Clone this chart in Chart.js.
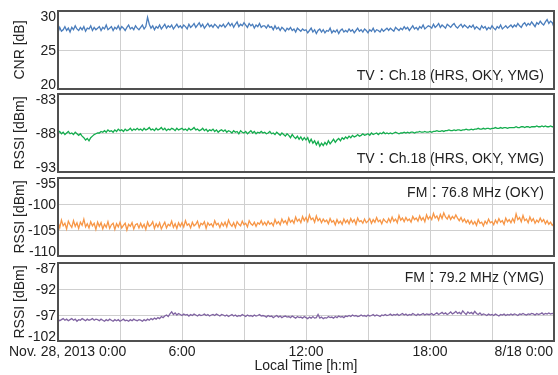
<!DOCTYPE html>
<html>
<head>
<meta charset="utf-8">
<script src="https://cdn.jsdelivr.net/npm/chart.js@4.4.0/dist/chart.umd.min.js"></script>
<style>
  html, body { margin: 0; padding: 0; background: #fff; }
  #wrap { position: relative; width: 558px; height: 375px; }
  #wrap canvas { position: absolute; left: 0; top: 0; }
</style>
</head>
<body>
<div id="wrap">
  <canvas id="cnr" width="558" height="375"></canvas>
  <canvas id="tv-rssi" width="558" height="375"></canvas>
  <canvas id="fm768" width="558" height="375"></canvas>
  <canvas id="fm792" width="558" height="375"></canvas>
</div>
<script>
// one sample every 5 minutes, 0:00 .. 24:00 (one row = 2 hours)
const SAMPLE_MINUTES = 5;

const cnrValues = [
  27.2, 27.9, 27.4, 27.6, 28.0, 27.5, 27.8, 27.3, 27.9, 27.6, 28.1, 27.7, 27.5, 27.9, 27.6, 28.0, 27.4, 27.8, 27.7, 28.1, 27.5, 27.9, 27.6, 27.8,
  28.0, 27.5, 27.9, 27.7, 28.2, 27.6, 27.8, 28.0, 27.5, 27.9, 27.7, 28.1, 27.6, 28.0, 27.8, 27.5, 27.9, 28.2, 27.7, 27.9, 27.6, 28.1, 27.8, 27.6,
  27.9, 28.2, 27.7, 28.0, 29.2, 28.3, 27.8, 28.1, 27.6, 28.0, 27.8, 28.2, 27.7, 28.0, 28.3, 27.8, 28.1, 27.9, 28.2, 27.7, 28.0, 28.3, 27.9, 28.1,
  27.8, 28.2, 28.0, 27.7, 28.3, 27.9, 28.1, 28.4, 27.9, 28.2, 28.5, 28.0, 28.3, 27.8, 28.1, 28.4, 28.0, 28.2, 27.9, 28.3, 28.1, 27.8, 28.2, 28.0,
  28.3, 27.9, 28.2, 28.5, 28.1, 28.4, 27.9, 28.3, 28.6, 28.0, 28.3, 28.1, 28.5, 28.2, 27.9, 28.4, 28.1, 28.3, 27.8, 28.2, 28.0, 28.4, 27.9, 28.1,
  28.1, 27.8, 28.2, 27.9, 28.0, 27.6, 28.1, 27.7, 27.9, 27.5, 27.9, 27.7, 27.4, 27.8, 27.6, 27.9, 27.5, 27.7, 27.3, 27.8, 27.6, 27.4, 27.7, 27.5,
  27.6, 27.2, 27.5, 27.8, 27.3, 27.6, 27.1, 27.5, 27.7, 27.3, 27.6, 27.2, 27.5, 27.4, 27.8, 27.2, 27.5, 27.3, 27.6, 27.1, 27.5, 27.7, 27.3, 27.5,
  27.3, 27.7, 27.4, 27.6, 27.2, 27.5, 27.8, 27.4, 27.6, 27.3, 27.7, 27.5, 27.2, 27.6, 27.4, 27.8, 27.3, 27.6, 27.5, 27.3, 27.7, 27.4, 27.6, 27.8,
  27.5, 27.8, 27.6, 27.4, 27.9, 27.7, 27.5, 27.8, 27.6, 28.0, 27.7, 27.9, 27.5, 27.8, 28.1, 27.7, 27.9, 27.6, 28.0, 27.8, 28.2, 27.7, 27.9, 28.1,
  28.0, 27.8, 28.3, 27.9, 28.1, 28.4, 27.9, 28.2, 28.0, 27.8, 28.3, 28.1, 27.9, 28.2, 28.4, 28.0, 27.8, 28.1, 28.3, 27.9, 28.2, 28.0, 27.8, 28.1,
  27.9, 28.2, 27.7, 28.0, 27.8, 27.6, 28.1, 27.8, 28.0, 27.6, 27.9, 27.7, 28.1, 27.8, 27.6, 28.0, 27.8, 28.2, 27.7, 27.9, 28.1, 27.8, 28.0, 28.2,
  27.9, 28.2, 28.0, 28.4, 28.1, 27.9, 28.3, 28.5, 28.1, 28.4, 28.2, 28.6, 28.3, 28.0, 28.5, 28.3, 28.7, 28.4, 28.2, 28.6, 28.9, 28.4, 28.7, 28.5,
  27.9
];

const tvRssiValues = [
  -88.0, -87.8, -88.1, -87.9, -88.2, -88.0, -87.8, -88.1, -88.0, -88.2, -87.9, -88.1, -88.3, -88.1, -88.4, -88.6, -88.9, -88.7, -89.0, -88.6, -88.4, -88.2, -88.1, -88.0,
  -88.0, -87.8, -87.9, -87.7, -87.9, -87.6, -87.8, -87.7, -87.9, -87.6, -87.8, -87.5, -87.7, -87.6, -87.8, -87.5, -87.7, -87.6, -87.4, -87.7, -87.5, -87.6, -87.4, -87.6,
  -87.5, -87.7, -87.4, -87.6, -87.5, -87.3, -87.6, -87.5, -87.7, -87.4, -87.6, -87.5, -87.3, -87.6, -87.4, -87.7, -87.5, -87.6, -87.4, -87.5, -87.7, -87.4, -87.6, -87.5,
  -87.4, -87.6, -87.5, -87.7, -87.4, -87.6, -87.5, -87.3, -87.6, -87.5, -87.7, -87.6, -87.4, -87.7, -87.5, -87.8, -87.6, -87.7, -87.5, -87.8, -87.6, -87.9, -87.7, -87.6,
  -87.8, -87.6, -87.9, -87.7, -87.8, -88.0, -87.7, -87.9, -87.8, -88.1, -87.7, -87.9, -88.0, -87.8, -88.1, -87.9, -87.7, -88.0, -87.8, -88.1, -87.9, -88.0, -87.8, -88.0,
  -87.9, -88.1, -88.0, -87.8, -88.1, -88.0, -88.2, -87.9, -88.1, -88.3, -88.0, -88.2, -88.4, -88.1, -88.3, -88.6, -88.2, -88.5, -88.7, -88.4, -88.8, -88.5, -88.9, -88.6,
  -88.9, -88.6, -89.2, -88.8, -89.3, -89.0, -89.5, -89.1, -89.7, -89.3, -89.6, -89.2, -89.5, -89.0, -89.4, -89.1, -88.8, -89.2, -88.9, -88.7, -89.0, -88.6, -88.8, -88.5,
  -88.7, -88.4, -88.6, -88.3, -88.5, -88.4, -88.2, -88.4, -88.3, -88.1, -88.3, -88.2, -88.1, -88.3, -88.0, -88.2, -88.1, -88.0, -88.2, -88.0, -88.1, -87.9, -88.1, -88.0,
  -88.1, -88.0, -88.1, -88.0, -87.9, -88.0, -88.1, -88.0, -88.0, -87.9, -88.0, -87.9, -88.0, -87.9, -87.9, -88.0, -87.9, -87.9, -87.8, -87.9, -87.9, -87.8, -87.9, -87.9,
  -87.8, -87.9, -87.8, -87.8, -87.7, -87.8, -87.8, -87.7, -87.8, -87.7, -87.7, -87.6, -87.7, -87.7, -87.6, -87.7, -87.6, -87.6, -87.7, -87.6, -87.6, -87.5, -87.6, -87.6,
  -87.5, -87.6, -87.5, -87.5, -87.4, -87.5, -87.5, -87.4, -87.5, -87.4, -87.4, -87.5, -87.4, -87.4, -87.3, -87.4, -87.4, -87.3, -87.4, -87.3, -87.3, -87.4, -87.3, -87.3,
  -87.3, -87.3, -87.2, -87.3, -87.3, -87.2, -87.2, -87.3, -87.2, -87.2, -87.3, -87.2, -87.2, -87.2, -87.1, -87.2, -87.2, -87.1, -87.2, -87.1, -87.2, -87.2, -87.1, -87.2,
  -87.2
];

const fm768Values = [
  -103.4, -104.6, -103.1, -104.2, -103.7, -104.8, -103.3, -104.0, -104.5, -103.2, -104.3, -103.6, -104.7, -103.5, -104.1, -102.9, -104.4, -103.8, -104.6, -103.4, -104.2, -103.7, -104.9, -103.5,
  -104.3, -103.6, -104.8, -103.9, -104.5, -103.4, -104.7, -104.0, -103.7, -104.9, -103.8, -104.4, -103.5, -104.6, -104.1, -103.7, -105.0, -103.9, -104.3, -103.6, -104.8, -104.0, -103.8, -104.6,
  -103.7, -104.5, -103.9, -104.9, -103.5, -104.3, -104.0, -103.4, -104.7, -103.8, -104.4, -103.6, -104.8, -104.1, -103.5, -104.6, -103.9, -104.2, -103.3, -104.5, -103.8, -104.7, -103.6, -104.3,
  -103.6, -104.4, -103.2, -104.1, -103.8, -104.6, -103.5, -104.2, -103.9, -103.3, -104.5, -103.7, -104.0, -103.4, -104.7, -103.6, -104.1, -103.8, -104.4, -103.2, -104.0, -103.7, -104.5, -103.6,
  -104.2, -103.5, -104.4, -103.1, -103.9, -104.3, -103.6, -104.5, -103.4, -103.9, -104.2, -103.3, -104.0, -103.7, -104.4, -103.2, -103.8, -104.1, -103.5, -104.3, -103.6, -103.9, -103.2, -104.0,
  -103.5, -104.1, -103.3, -103.9, -103.6, -104.2, -103.0, -103.8, -103.4, -104.0, -102.9, -103.6, -103.2, -103.9, -102.7, -103.5, -103.1, -103.7, -102.5, -103.3, -102.9, -103.6, -102.4, -103.2,
  -102.6, -103.4, -102.1, -103.0, -102.7, -103.5, -102.3, -103.2, -102.8, -103.6, -102.9, -103.4, -103.1, -103.8, -102.8, -103.5, -103.2, -104.0, -103.0, -103.7, -103.3, -103.9, -102.9, -103.6,
  -103.1, -103.8, -102.8, -103.5, -103.0, -103.9, -102.7, -103.4, -103.2, -103.7, -102.9, -103.6, -103.3, -102.8, -103.7, -103.0, -103.5, -102.6, -103.4, -103.1, -103.8, -102.9, -103.3, -103.6,
  -102.8, -103.5, -102.5, -103.3, -102.9, -103.6, -102.2, -103.1, -102.7, -103.4, -102.6, -103.2, -102.9, -103.5, -102.4, -103.0, -102.7, -103.3, -102.3, -103.1, -102.6, -103.4, -102.1, -102.9,
  -102.4, -103.0, -101.8, -102.7, -102.3, -103.1, -102.0, -102.8, -101.7, -102.5, -102.9, -102.2, -103.0, -102.4, -102.8, -102.1, -102.7, -103.2, -102.6, -103.4, -102.9, -103.6, -103.1, -103.8,
  -103.2, -103.9, -103.4, -104.1, -103.0, -103.7, -103.5, -104.2, -103.3, -103.8, -102.9, -103.6, -103.4, -104.0, -103.1, -103.7, -102.8, -103.5, -103.2, -103.9, -102.7, -103.4, -103.0, -103.6,
  -102.8, -103.5, -101.9, -103.0, -102.6, -103.4, -102.2, -103.2, -102.9, -103.6, -102.5, -103.3, -102.8, -103.7, -103.1, -103.5, -102.7, -103.4, -103.0, -103.8, -103.2, -103.9, -103.5, -104.1,
  -103.7
];

const fm792Values = [
  -97.8, -98.1, -97.9, -97.7, -98.0, -97.8, -98.1, -97.9, -97.7, -98.0, -97.8, -98.2, -97.9, -98.0, -97.7, -97.9, -98.1, -97.8, -98.0, -97.9, -97.7, -98.0, -97.8, -97.9,
  -98.1, -97.8, -98.0, -98.2, -97.9, -98.1, -97.8, -98.0, -98.2, -97.9, -98.1, -97.9, -98.2, -98.0, -97.8, -98.1, -98.0, -98.2, -97.9, -98.1, -97.8, -98.0, -98.1, -97.9,
  -98.0, -98.2, -97.9, -98.1, -97.8, -98.0, -97.7, -97.9, -97.6, -97.8, -97.5, -97.7, -97.3, -97.5, -97.2, -97.0, -97.3, -96.8, -96.4, -96.9, -96.6, -97.0, -96.7, -96.9,
  -97.1, -96.8, -97.0, -96.9, -97.2, -96.9, -97.1, -96.8, -97.0, -97.2, -96.9, -97.1, -97.0, -96.8, -97.1, -96.9, -97.2, -97.0, -96.9, -97.1, -96.8, -97.0, -97.2, -96.9,
  -97.0, -97.2, -97.0, -97.3, -97.1, -96.9, -97.2, -97.0, -97.3, -97.1, -97.2, -96.9, -97.1, -97.3, -97.0, -97.2, -97.1, -97.3, -97.0, -97.2, -97.1, -96.9, -97.2, -97.1,
  -97.2, -97.4, -97.1, -97.3, -97.2, -97.5, -97.3, -97.1, -97.4, -97.2, -97.5, -97.3, -97.2, -97.4, -97.3, -97.5, -97.2, -97.4, -97.6, -97.3, -97.5, -97.4, -97.6, -97.3,
  -97.5, -97.7, -97.4, -97.6, -97.3, -97.6, -97.5, -96.9, -97.6, -97.4, -97.7, -97.5, -97.6, -97.3, -97.5, -97.4, -97.6, -97.3, -97.5, -97.2, -97.4, -97.3, -97.5, -97.2,
  -97.3, -97.1, -97.3, -97.0, -97.2, -97.1, -97.3, -97.2, -97.0, -97.2, -97.1, -97.3, -97.0, -97.2, -97.1, -96.9, -97.2, -97.0, -97.1, -97.3, -97.0, -97.1, -96.9, -97.1,
  -97.0, -96.8, -97.1, -96.9, -97.0, -96.8, -97.1, -96.9, -96.7, -97.0, -96.8, -97.1, -96.9, -97.0, -96.7, -96.9, -97.1, -96.8, -97.0, -96.9, -96.7, -97.0, -96.8, -96.9,
  -96.9, -96.7, -97.0, -96.8, -96.6, -96.9, -96.7, -96.5, -96.8, -96.6, -96.9, -96.7, -96.4, -96.8, -96.6, -96.3, -96.7, -96.5, -96.8, -96.2, -96.6, -96.9, -96.4, -96.7,
  -96.5, -96.8, -96.3, -96.7, -96.9, -96.6, -97.0, -96.8, -96.9, -97.1, -96.8, -97.0, -96.9, -97.1, -96.8, -97.0, -97.2, -96.9, -97.0, -96.8, -97.1, -96.9, -97.0, -96.8,
  -97.0, -96.8, -96.9, -97.1, -96.8, -96.9, -96.7, -96.9, -97.0, -96.8, -96.9, -96.7, -96.8, -97.0, -96.7, -96.9, -96.8, -96.6, -96.9, -96.7, -96.8, -96.6, -96.8, -96.7,
  -96.8
];

const xTickHours = [0, 6, 12, 18, 24];
const xTickLabels = ["Nov. 28, 2013 0:00", "6:00", "12:00", "18:00", "8/18 0:00"];
const xTitle = "Local Time [h:m]";

const FONT = '"Liberation Sans", Arial, "Noto Sans CJK JP", sans-serif';
const TEXT = "#222";
const GRID = "#cfcfcf";

// frame round the plot area (Chart.js only draws left/bottom borders)
const framePlugin = {
  id: "frame",
  afterDraw(chart) {
    const { ctx, chartArea: a } = chart;
    ctx.save();
    ctx.strokeStyle = "#505050";
    ctx.lineWidth = 2;
    ctx.strokeRect(a.left, a.top, a.right - a.left, a.bottom - a.top);
    ctx.restore();
  }
};

// y tick labels, end labels pulled inside the panel like the original
const yLabelPlugin = {
  id: "yLabels",
  afterDraw(chart) {
    const { ctx, chartArea: a } = chart;
    const y = chart.scales.y;
    ctx.save();
    ctx.font = `14px ${FONT}`;
    ctx.fillStyle = TEXT;
    ctx.textAlign = "right";
    ctx.textBaseline = "middle";
    y.ticks.forEach(t => {
      const py = Math.min(Math.max(y.getPixelForValue(t.value) + 1, a.top + 6), a.bottom - 4);
      ctx.fillText(String(t.value), a.left - 2, py);
    });
    ctx.restore();
  }
};

const notePlugin = {
  id: "panelNote",
  afterDraw(chart, args, opts) {
    if (!opts.text) return;
    const { ctx, chartArea: a } = chart;
    ctx.save();
    ctx.font = `14px ${FONT}`;
    ctx.fillStyle = TEXT;
    ctx.textAlign = "right";
    ctx.textBaseline = "middle";
    const y = opts.where === "top" ? a.top + 15 : a.bottom - 13;
    ctx.fillText(opts.text, a.right - 10, y);
    ctx.restore();
  }
};

// time labels under the last panel, kept inside the page at both ends
const timeLabelPlugin = {
  id: "timeLabels",
  afterDraw(chart, args, opts) {
    if (!opts.show) return;
    const { ctx, chartArea: a } = chart;
    const x = chart.scales.x;
    ctx.save();
    ctx.font = `14px ${FONT}`;
    ctx.fillStyle = TEXT;
    ctx.textAlign = "left";
    ctx.textBaseline = "middle";
    xTickHours.forEach((h, i) => {
      const w = ctx.measureText(xTickLabels[i]).width;
      let left = x.getPixelForValue(h) - w / 2;
      left = Math.max(9, Math.min(left, chart.width - 5 - w));
      ctx.fillText(xTickLabels[i], left, a.bottom + 11);
    });
    ctx.textAlign = "center";
    ctx.fillText(xTitle, (a.left + a.right) / 2, a.bottom + 25);
    ctx.restore();
  }
};

function makePanel(id, values, color, p) {
  return new Chart(document.getElementById(id), {
    type: "line",
    data: {
      datasets: [{
        data: values.map((v, i) => ({ x: i * SAMPLE_MINUTES / 60, y: v })),
        borderColor: color,
        borderWidth: 1.3,
        pointRadius: 0,
        tension: 0
      }]
    },
    options: {
      responsive: false,
      animation: false,
      events: [],
      layout: { padding: { left: 0, right: 4, top: p.top, bottom: 375 - p.bottom } },
      plugins: {
        legend: { display: false },
        tooltip: { enabled: false },
        panelNote: { text: p.note, where: p.noteAt },
        timeLabels: { show: !!p.timeLabels }
      },
      scales: {
        x: {
          type: "linear", min: 0, max: 24,
          border: { display: false },
          grid: { color: GRID, drawTicks: false },
          ticks: { display: false, stepSize: 3 },
          afterFit(s) { s.height = 0; }
        },
        y: {
          min: p.min, max: p.max,
          border: { display: false },
          grid: { color: GRID, drawTicks: false },
          ticks: { display: false, stepSize: 5 },
          title: {
            display: true, text: p.yTitle, color: TEXT,
            font: { family: FONT, size: 14 }, padding: { top: 12, bottom: 0 }
          },
          afterFit(s) { s.width = 58; }
        }
      }
    },
    plugins: [framePlugin, yLabelPlugin, notePlugin, timeLabelPlugin]
  });
}

makePanel("cnr", cnrValues, "#4a7dbc", {
  top: 11, bottom: 89, min: 20, max: 30, yTitle: "CNR [dB]",
  note: "TV：Ch.18 (HRS, OKY, YMG)", noteAt: "bottom"
});
makePanel("tv-rssi", tvRssiValues, "#14ad4e", {
  top: 94, bottom: 172, min: -93, max: -83, yTitle: "RSSI [dBm]",
  note: "TV：Ch.18 (HRS, OKY, YMG)", noteAt: "bottom"
});
makePanel("fm768", fm768Values, "#f79646", {
  top: 178, bottom: 256, min: -110, max: -95, yTitle: "RSSI [dBm]",
  note: "FM：76.8 MHz (OKY)", noteAt: "top"
});
makePanel("fm792", fm792Values, "#8064a2", {
  top: 263, bottom: 341, min: -102, max: -87, yTitle: "RSSI [dBm]",
  note: "FM：79.2 MHz (YMG)", noteAt: "top", timeLabels: true
});
</script>
</body>
</html>
